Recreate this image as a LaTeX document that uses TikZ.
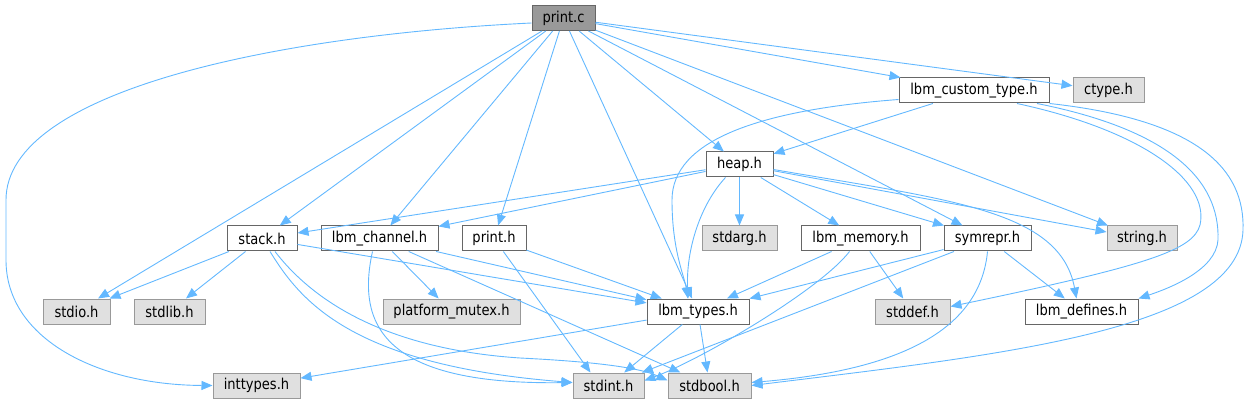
\documentclass[tikz,border=0pt]{standalone}
\usepackage{fontspec}
\setmainfont{DejaVu Sans}[FakeStretch=0.87]
\usetikzlibrary{arrows.meta}

\begin{document}
\begin{tikzpicture}[x=1pt,y=-1pt,
    box/.style={draw, line width=1pt, minimum height=25pt, inner sep=0pt,
        font=\fontsize{15}{17}\selectfont},
    hdr/.style={box, draw=node_border, fill=white},
    syshdr/.style={box, draw=sys_border, fill=sys_fill},
    srcfile/.style={box, draw=node_border, fill=src_fill},
    dep/.style={draw=edge_blue, line width=0.9pt, -{Triangle[length=11pt,width=9pt]}}]
    \definecolor{edge_blue}{HTML}{63B8FF}
    \definecolor{node_border}{HTML}{666666}
    \definecolor{sys_border}{HTML}{999999}
    \definecolor{sys_fill}{HTML}{E0E0E0}
    \definecolor{src_fill}{HTML}{999999}
    %\draw[help lines,step=50] (0,0) grid (1249,403);
    \useasboundingbox (0,0) rectangle (1249,403);

    \node[srcfile, minimum width=63pt] (printc) at (563.5,18) {print.c};
    \node[hdr, minimum width=150pt] (customtype) at (974,90.5) {lbm\_custom\_type.h};
    \node[syshdr, minimum width=71pt] (ctype) at (1108.5,90.5) {ctype.h};
    \node[hdr, minimum width=67pt] (heap) at (739.5,164.5) {heap.h};
    \node[hdr, minimum width=70pt] (stack) at (262,238.5) {stack.h};
    \node[hdr, minimum width=117pt] (channel) at (379.5,238.5) {lbm\_channel.h};
    \node[hdr, minimum width=64pt] (printh) at (494,238.5) {print.h};
    \node[syshdr, minimum width=75pt] (stdarg) at (739.5,238.5) {stdarg.h};
    \node[hdr, minimum width=119pt] (memory) at (860.5,238.5) {lbm\_memory.h};
    \node[hdr, minimum width=87pt] (symrepr) at (987.5,238.5) {symrepr.h};
    \node[syshdr, minimum width=70pt] (string) at (1142,238.5) {string.h};
    \node[syshdr, minimum width=67pt] (stdio) at (76.5,311.5) {stdio.h};
    \node[syshdr, minimum width=71pt] (stdlib) at (169.5,311.5) {stdlib.h};
    \node[syshdr, minimum width=137pt] (mutex) at (451.5,311.5) {platform\_mutex.h};
    \node[hdr, minimum width=102pt] (types) at (698,311.5) {lbm\_types.h};
    \node[syshdr, minimum width=75pt] (stddef) at (912.5,311.5) {stddef.h};
    \node[hdr, minimum width=113pt] (defines) at (1081.5,311.5) {lbm\_defines.h};
    \node[syshdr, minimum width=87pt] (inttypes) at (256.5,385.5) {inttypes.h};
    \node[syshdr, minimum width=71pt] (stdint) at (608.5,385.5) {stdint.h};
    \node[syshdr, minimum width=83pt] (stdbool) at (709.5,385.5) {stdbool.h};

    % print.c
    \draw[dep] ([yshift=-5pt]printc.west) .. controls (280,35) and (6,90) .. (6,200)
        -- (6,260) .. controls (6,340) and (100,385) .. (inttypes.west);
    \draw[dep] (printc) -- (stdio);
    \draw[dep] (printc) -- (stack);
    \draw[dep] (printc) -- (channel);
    \draw[dep] (printc) -- (printh);
    \draw[dep] (printc) -- (types);
    \draw[dep] (printc) -- (heap);
    \draw[dep] (printc) -- (symrepr);
    \draw[dep] (printc) -- (string);
    \draw[dep] (printc) -- (customtype);
    \draw[dep] (printc) -- (ctype);

    % lbm_custom_type.h
    \draw[dep] ([yshift=-9pt]customtype.west) .. controls (760,110) and (672,140) .. (672,200)
        .. controls (672,250) and (684,275) .. ([xshift=-10pt]types.north);
    \draw[dep] (customtype) -- (heap);
    \draw[dep] ([xshift=43pt]customtype.south) .. controls (1140,130) and (1210,180) .. (1200,225)
        .. controls (1193,250) and (1150,265) .. ([yshift=5pt]stddef.east);
    \draw[dep] ([xshift=63pt]customtype.south) .. controls (1170,130) and (1220,180) .. (1218,240)
        .. controls (1216,270) and (1170,288) .. (defines.north east);
    \draw[dep] (customtype.south east) .. controls (1200,120) and (1245,170) .. (1243,230)
        .. controls (1240,330) and (1000,355) .. (stdbool.east);

    % heap.h
    \draw[dep] (heap) -- (stack);
    \draw[dep] (heap) -- (channel);
    \draw[dep] ([xshift=-14pt]heap.south) .. controls (700,205) and (686,250) .. ([xshift=-10pt]types.north);
    \draw[dep] (heap) -- (stdarg);
    \draw[dep] (heap) -- (memory);
    \draw[dep] (heap) -- (symrepr);
    \draw[dep] (heap) -- (string);
    \draw[dep] ([yshift=-5pt]heap.east) .. controls (950,200) and (1060,210) .. ([xshift=-5pt]defines.north);

    % stack.h
    \draw[dep] (stack) -- (stdio);
    \draw[dep] (stack) -- (stdlib);
    \draw[dep] (stack) -- (types);
    \draw[dep] ([xshift=8pt]stack.south) .. controls (300,300) and (350,365) .. ([yshift=3pt]stdint.west);
    \draw[dep] ([xshift=13pt]stack.south) .. controls (320,310) and (400,350) .. (520,358)
        .. controls (600,362) and (640,368) .. ([yshift=5pt]stdbool.west);

    % lbm_channel.h
    \draw[dep] (channel) -- (mutex);
    \draw[dep] (channel) -- (types);
    \draw[dep] ([xshift=-7pt]channel.south) .. controls (355,330) and (390,385) .. ([yshift=3pt]stdint.west);
    \draw[dep] (channel) -- (stdbool);

    % print.h
    \draw[dep] (printh) -- (types);
    \draw[dep] (printh) -- ([xshift=-18pt]stdint.north);

    % lbm_types.h
    \draw[dep] (types) -- (inttypes);
    \draw[dep] (types) -- (stdint);
    \draw[dep] (types) -- (stdbool);

    % lbm_memory.h
    \draw[dep] (memory) -- (types);
    \draw[dep] ([xshift=-11pt]memory.south) .. controls (820,290) and (700,360) .. ([yshift=5pt]stdint.east);
    \draw[dep] (memory) -- (stddef);

    % symrepr.h
    \draw[dep] (symrepr) -- (types);
    \draw[dep] (symrepr) -- (stdint);
    \draw[dep] (symrepr.south) .. controls (980,330) and (900,370) .. ([yshift=3pt]stdbool.east);
    \draw[dep] (symrepr) -- (defines);
\end{tikzpicture}
\end{document}
